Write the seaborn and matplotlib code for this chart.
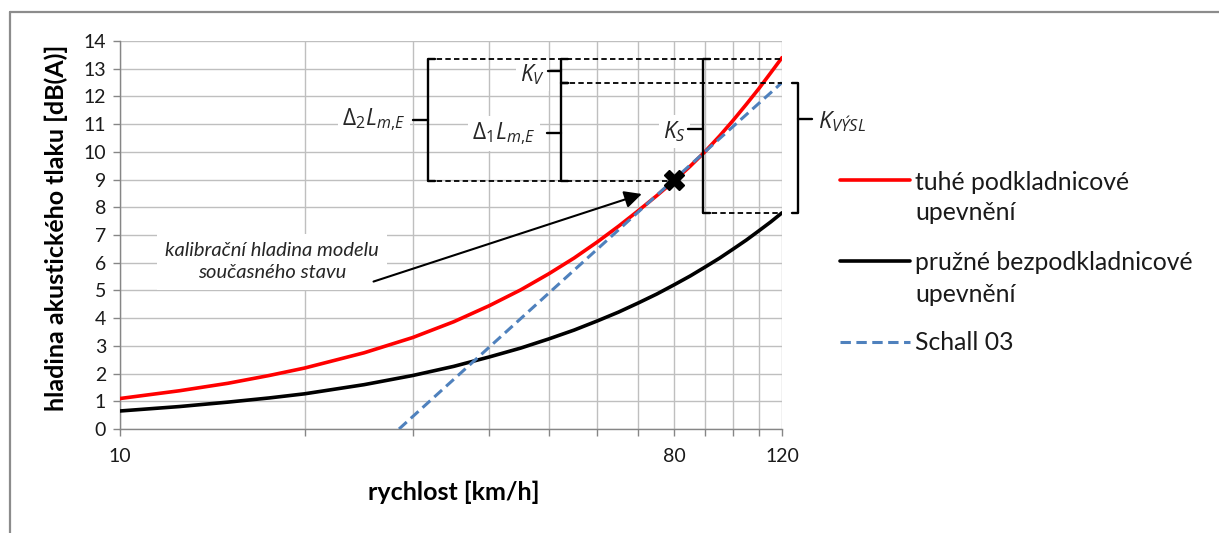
import matplotlib
matplotlib.use("Agg")
import matplotlib.pyplot as plt
import matplotlib.ticker as mticker
from matplotlib.lines import Line2D
import pandas as pd
import seaborn as sns

# ---------------- data ----------------
speed = [10, 12.5, 15, 17.5, 20, 25, 30, 35, 40, 45, 50, 55, 60, 65, 70, 75, 80,
         85, 90, 95, 100, 105, 110, 115, 120]
tuhe = [1.1, 1.38, 1.65, 1.93, 2.2, 2.75, 3.3, 3.87, 4.45, 5.02, 5.6, 6.17, 6.75, 7.32, 7.88,
        8.42, 8.95, 9.48, 10.02, 10.58, 11.15, 11.72, 12.28, 12.85, 13.4]
pruzne = [0.65, 0.81, 0.97, 1.12, 1.27, 1.6, 1.93, 2.26, 2.6, 2.92, 3.25, 3.57, 3.9, 4.22,
          4.55, 4.87, 5.2, 5.52, 5.85, 6.17, 6.5, 6.82, 7.15, 7.47, 7.8]
schall_speed = [28.5, 80, 120]
schall = [0.0, 9.0, 12.5]

series_names = ["tuhé podkladnicové\nupevnění", "pružné bezpodkladnicové\nupevnění", "Schall 03"]
x_ticks = [10, 20, 30, 40, 50, 60, 70, 80, 90, 100, 110, 120]
x_tick_labels = ["10", "", "", "", "", "", "", "80", "", "", "", "120"]
y_ticks = list(range(0, 15))
calib_speed, calib_level = 80, 9.0

# ---------------- style ----------------
sns.set_theme(style="white")
plt.rcParams["font.family"] = ["Lato", "DejaVu Sans"]
plt.rcParams["mathtext.fontset"] = "custom"
plt.rcParams["mathtext.it"] = "Open Sans:italic"
plt.rcParams["mathtext.rm"] = "Open Sans"

W, H = 1219, 533
fig = plt.figure(figsize=(W / 100, H / 100), dpi=100)
ax = fig.add_axes([120 / W, 1 - 429 / H, 662 / W, 388 / H])

RED, BLACK, BLUE = "#FF0000", "#000000", "#4F81BD"
LW = 2.6
BLUE_DASH = (0, (3.4, 1.8))

df_t = pd.DataFrame({"v": speed, "L": tuhe})
df_p = pd.DataFrame({"v": speed, "L": pruzne})
df_s = pd.DataFrame({"v": schall_speed, "L": schall})

sns.lineplot(data=df_t, x="v", y="L", ax=ax, color=RED, lw=LW, zorder=5, legend=False)
sns.lineplot(data=df_p, x="v", y="L", ax=ax, color=BLACK, lw=LW, zorder=5, legend=False)
sns.lineplot(data=df_s, x="v", y="L", ax=ax, color=BLUE, lw=2.2, zorder=6,
             linestyle=BLUE_DASH, legend=False)

ax.set_xscale("log")
ax.set_xlim(10, 120)
ax.set_ylim(0, 14)
ax.xaxis.set_major_locator(mticker.FixedLocator(x_ticks))
ax.xaxis.set_major_formatter(mticker.FixedFormatter(x_tick_labels))
ax.xaxis.set_minor_locator(mticker.NullLocator())
ax.set_yticks(y_ticks)
ax.grid(True, color="#BFBFBF", lw=1.0)
for s in ["top", "right"]:
    ax.spines[s].set_visible(False)
for s in ["left", "bottom"]:
    ax.spines[s].set_color("#868686")
    ax.spines[s].set_linewidth(1.0)
ax.tick_params(axis="both", which="major", direction="out", length=5, width=1,
               color="#868686", labelsize=14, labelcolor="#1a1a1a")
ax.tick_params(axis="x", pad=9)
ax.tick_params(axis="y", pad=5, left=True)
ax.tick_params(axis="x", bottom=True)
ax.set_xlabel("")
ax.set_ylabel("")

fig.text(454 / W, 1 - 492 / H, "rychlost [km/h]", ha="center", va="center",
         fontsize=18, fontweight="bold", color="#000000")
fig.text(56 / W, 1 - 228 / H, "hladina akustického tlaku [dB(A)]", ha="center", va="center",
         rotation=90, fontsize=18, fontweight="bold", color="#000000")

# outer chart frame (left + top visible)
fig.add_artist(Line2D([10 / W, 10 / W], [0, 1 - 12 / H], color="#8C8C8C", lw=1.6))
fig.add_artist(Line2D([10 / W, 1], [1 - 12 / H, 1 - 12 / H], color="#8C8C8C", lw=1.6))

# ---------------- annotations ----------------
dash_kw = dict(color="black", lw=1.3, linestyle=(0, (3, 1.8)), clip_on=False, zorder=7)
solid_kw = dict(color="black", lw=1.7, clip_on=False, zorder=8, solid_capstyle="round",
                solid_joinstyle="round")

y_top, y_2, y_cal, y_low = 13.36, 12.48, 8.96, 7.8
x_d2, x_d1, x_ks, x_kv = 31.8, 52.4, 89.2, 127.6

ax.plot([x_d2, 120], [y_top, y_top], **dash_kw)
ax.plot([x_d1, 120], [y_2, y_2], **dash_kw)
ax.plot([x_d2, calib_speed], [y_cal, y_cal], **dash_kw)
ax.plot([x_ks, 120], [y_low, y_low], **dash_kw)

hf = 1.025

def left_brace(x, yt, yb, ytip, xtip):
    ax.plot([x * hf, x, x, x * hf], [yt, yt, yb, yb], **solid_kw)
    ax.plot([x, xtip], [ytip, ytip], **solid_kw)

def right_brace(x, yt, yb, ytip, xtip):
    ax.plot([x / hf, x, x, x / hf], [yt, yt, yb, yb], **solid_kw)
    ax.plot([x, xtip], [ytip, ytip], **solid_kw)

left_brace(x_d2, y_top, y_cal, 11.15, 30.05)
left_brace(x_d1, y_2, y_cal, 10.67, 49.6)
left_brace(x_d1, y_top, y_2, 12.9, 49.9)
left_brace(x_ks, y_top, y_low, 10.83, 84.3)
right_brace(x_kv, y_2, y_low, 11.19, 134.2)

box = dict(facecolor="white", edgecolor="none", pad=3)
ax.text(29.2, 11.15, r"$\Delta_2L_{m{,}E}$", ha="right", va="center", fontsize=16.5,
        bbox=box, zorder=4)
ax.text(47.6, 10.67, r"$\Delta_1L_{m{,}E}$", ha="right", va="center", fontsize=16.5,
        bbox=box, zorder=4)
ax.text(49.3, 12.8, r"$K_V$", ha="right", va="center", fontsize=16.5, bbox=box, zorder=4)
ax.text(83.8, 10.73, r"$K_S$", ha="right", va="center", fontsize=16.5, bbox=box, zorder=4)
ax.text(137.4, 11.1, r"$K_{VÝSL}$", ha="left", va="center", fontsize=17, clip_on=False)

ax.plot([calib_speed], [calib_level], marker="X", markersize=15, color="black",
        markeredgecolor="black", zorder=9, clip_on=False)

ax.text(17.7, 6.03, "kalibrační hladina modelu\nsoučasného stavu", ha="center", va="center",
        fontsize=14.5, style="italic", linespacing=1.35,
        bbox=dict(facecolor="white", edgecolor="none", pad=6), zorder=4)
ax.annotate("", xy=(70.9, 8.48), xytext=(25.9, 5.32),
            arrowprops=dict(arrowstyle="-|>", color="black", lw=1.5, mutation_scale=26,
                            shrinkA=0, shrinkB=0), zorder=8)

# ---------------- legend (drawn at the reference's positions) ----------------
leg_rows = [
    (RED, "-", LW, 180, [183, 213]),
    (BLACK, "-", LW, 261, [263, 295]),
    (BLUE, BLUE_DASH, 2.2, 342, [342]),
]
for (col, ls, lw, ly, tys), name in zip(leg_rows, series_names):
    fig.add_artist(Line2D([840 / W, 910 / W], [1 - ly / H, 1 - ly / H], color=col, lw=lw,
                          linestyle=ls))
    for ty, line in zip(tys, name.split("\n")):
        fig.text(915 / W, 1 - ty / H, line, ha="left", va="center", fontsize=17.8,
                 color="#1a1a1a")

fig.savefig("out.png", dpi=100)
